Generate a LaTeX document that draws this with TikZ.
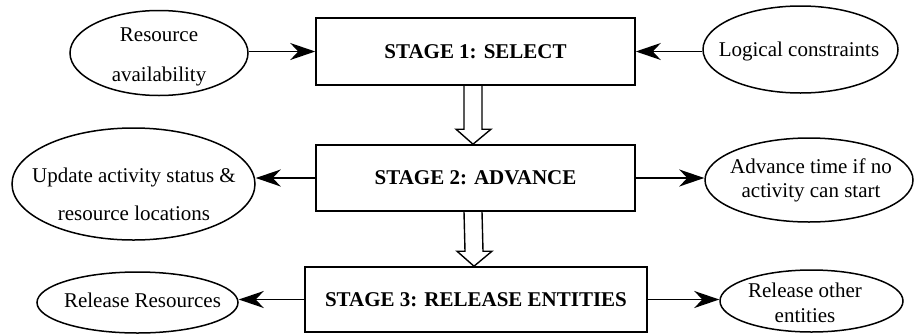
\documentclass[tikz,border=0pt]{standalone}
\usepackage{fontspec}
\setmainfont{Liberation Serif}
\usetikzlibrary{arrows.meta,shapes.geometric,calc}
\begin{document}
\begin{tikzpicture}[x=1pt,y=-1pt,
  stagebox/.style={draw,line width=1.6pt,rectangle,inner sep=0pt,font=\fontsize{21}{25}\selectfont\bfseries},
  oval/.style={draw,line width=1.5pt,ellipse,inner sep=0pt},
  ovaltext/.style={align=center,inner sep=0pt,font=\fontsize{21}{25}\selectfont},
  link/.style={line width=1.6pt,-{Stealth[length=25pt,width=17pt,inset=8pt]}},
  hollow/.style={line width=1.4pt,line join=miter}]
\useasboundingbox (0,0) rectangle (917,335);

% stages
\node[stagebox,minimum width=319pt,minimum height=67pt] (s1) at (475.5,51.5) {STAGE 1: SELECT};
\node[stagebox,minimum width=319pt,minimum height=66pt] (s2) at (475.5,178) {STAGE 2: ADVANCE};
\node[stagebox,minimum width=342pt,minimum height=65pt] (s3) at (476,299.5) {STAGE 3: RELEASE ENTITIES};

% ellipses
\node[oval,minimum width=178pt,minimum height=85pt] (ra) at (159,53) {};
\node[ovaltext] (rat) at (159,57) {Resource\\[15pt]availability};

\node[oval,minimum width=195pt,minimum height=87pt] (lc) at (800.5,49.5) {};
\node[ovaltext] (lct) at (799,51) {Logical constraints};

\node[oval,minimum width=243pt,minimum height=112pt] (up) at (133.5,184) {};
\node[ovaltext] (upt) at (134,194) {Update activity status \&\\[13pt]resource locations};

\node[oval,minimum width=208pt,minimum height=84pt] (at) at (809,180) {};
\node[ovaltext] (att) at (811,180) {Advance time if no\\[-1pt]activity can start};

\node[oval,minimum width=201pt,minimum height=61pt] (rr) at (137.5,302.5) {};
\node[ovaltext] (rrt) at (142.5,300) {Release Resources};

\node[oval,minimum width=183pt,minimum height=62pt] (ro) at (811.5,301) {};
\node[ovaltext] (rot) at (805,303) {Release other\\entities};

% connectors
\draw[link] (s1.west -| ra.east) -- (s1.west);
\draw[link] (s1.east -| lc.west) -- (s1.east);
\draw[link] (s2.west) -- (s2.west -| up.east);
\draw[link] (s2.east) -- (s2.east -| at.west);
\draw[link] (s3.west) -- (s3.west -| rr.east);
\draw[link] (s3.east) -- (s3.east -| ro.west);

% hollow block arrows
\draw[hollow] ($(s1.south)+(-11.5,0)$) -- ($(s2.north)+(-11.5,-15)$) -- ($(s2.north)+(-19.5,-15)$)
  -- ($(s2.north)+(-2.5,0)$) -- ($(s2.north)+(15.5,-15)$) -- ($(s2.north)+(6.5,-15)$) -- ($(s1.south)+(6.5,0)$);
\draw[hollow] ($(s2.south)+(-11.5,0)$) -- ($(s3.north)+(-11,-15)$) -- ($(s3.north)+(-19,-15)$)
  -- ($(s3.north)+(-2,0)$) -- ($(s3.north)+(16,-15)$) -- ($(s3.north)+(7,-15)$) -- ($(s2.south)+(6.5,0)$);
\end{tikzpicture}
\end{document}
